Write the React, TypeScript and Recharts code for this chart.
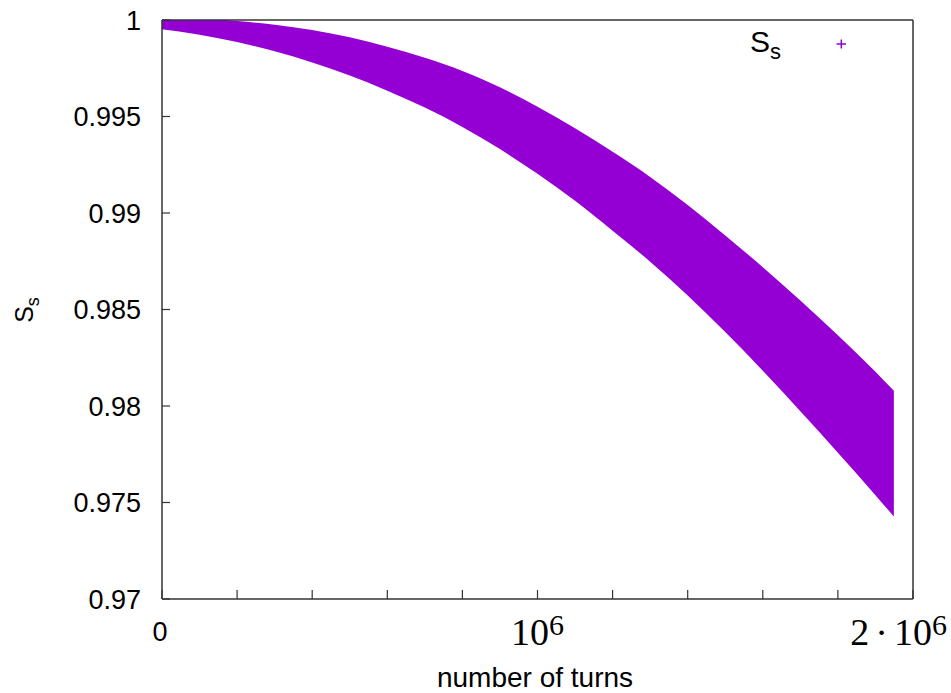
import React from 'react';
import { AreaChart, Area, XAxis, YAxis } from 'recharts';

// band of S_s vs number of turns
const turns = [
  0, 100000, 200000, 300000, 400000, 500000, 600000, 700000, 800000, 900000,
  1000000, 1100000, 1200000, 1300000, 1400000, 1500000, 1600000, 1700000,
  1800000, 1900000, 1949000,
];
const upperS = [
  1.0002, 1.0001, 0.99995, 0.99975, 0.99948, 0.9991, 0.99862, 0.99804, 0.99736,
  0.99651, 0.99551, 0.99439, 0.99317, 0.99187, 0.99042, 0.98884, 0.98719,
  0.98547, 0.98367, 0.98177, 0.98079,
];
const lowerS = [
  0.99952, 0.99924, 0.99886, 0.99838, 0.9978, 0.99712, 0.99634, 0.99546, 0.99446,
  0.99331, 0.99203, 0.99063, 0.98908, 0.98748, 0.98573, 0.98383, 0.98183,
  0.97973, 0.97758, 0.97538, 0.97428,
];

const xTicks = [
  0, 200000, 400000, 600000, 800000, 1000000, 1200000, 1400000, 1600000,
  1800000, 2000000,
];
const yTicks = [0.97, 0.975, 0.98, 0.985, 0.99, 0.995, 1];

const data = turns.map((t, i) => ({ turns: t, band: [lowerS[i], upperS[i]] }));

const W = 951;
const H = 693;
const PLOT_BOTTOM = 599;
const SANS = '"Liberation Sans", Arial, Helvetica, sans-serif';
const SERIF = '"Liberation Serif", "DejaVu Serif", serif';
const PURPLE = '#9400d3';
const AXIS = '#333';

const XTick = (props: any) => {
  const { x, payload } = props;
  const v = payload.value;
  if (v === 0) {
    return (
      <text x={x - 2} y={PLOT_BOTTOM + 42} fontFamily={SANS} fontSize={27} textAnchor="middle" fill="#000">
        0
      </text>
    );
  }
  if (v === 1000000) {
    return (
      <text x={x} y={PLOT_BOTTOM + 46} fontFamily={SERIF} fontSize={38} textAnchor="middle" fill="#000">
        10<tspan dy={-10} fontSize={30}>6</tspan>
      </text>
    );
  }
  if (v === 2000000) {
    return (
      <text x={x + 34} y={PLOT_BOTTOM + 46} fontFamily={SERIF} fontSize={38} textAnchor="end" fill="#000">
        2<tspan dx={6}>·</tspan>
        <tspan dx={6}>10</tspan>
        <tspan dy={-10} fontSize={30}>6</tspan>
      </text>
    );
  }
  return <g />;
};

const YTitle = () => (
  <text
    transform="translate(33, 310) rotate(-90)"
    fontFamily={SANS}
    fontSize={25}
    textAnchor="middle"
    fill="#000"
  >
    S<tspan dy={6} fontSize={18}>s</tspan>
  </text>
);

const XTitle = () => (
  <text x={535} y={687} fontFamily={SANS} fontSize={28} textAnchor="middle" fill="#000">
    number of turns
  </text>
);

const App = () => {
  return (
    <div style={{ position: 'absolute', left: 0, top: 0, width: W, height: H, background: '#fff' }}>
      <AreaChart width={W} height={H} data={data} margin={{ top: 0, right: 0, bottom: 0, left: 0 }}>
        <XAxis
          dataKey="turns"
          type="number"
          domain={[0, 2000000]}
          ticks={xTicks}
          interval={0}
          height={94}
          tickSize={-9}
          tickMargin={2}
          axisLine={{ stroke: AXIS, strokeWidth: 1.5 }}
          tickLine={{ stroke: AXIS, strokeWidth: 1.2 }}
          tick={<XTick />}
          label={{ content: () => <XTitle /> }}
        />
        <XAxis
          xAxisId="top"
          orientation="top"
          type="number"
          domain={[0, 2000000]}
          ticks={xTicks}
          interval={0}
          height={20}
          tickSize={-8}
          axisLine={{ stroke: AXIS, strokeWidth: 1.5 }}
          tickLine={{ stroke: AXIS, strokeWidth: 1.2 }}
          tick={false}
        />
        <YAxis
          type="number"
          domain={[0.97, 1]}
          allowDataOverflow
          ticks={yTicks}
          interval={0}
          width={162}
          tickSize={-8}
          tickMargin={29}
          axisLine={{ stroke: AXIS, strokeWidth: 1.5 }}
          tickLine={{ stroke: AXIS, strokeWidth: 1.2 }}
          tick={{ fontSize: 27, fill: '#000', fontFamily: SANS }}
          tickFormatter={(v: number) => String(+v.toFixed(3))}
          label={{ content: () => <YTitle /> }}
        />
        <YAxis
          yAxisId="right"
          orientation="right"
          type="number"
          domain={[0.97, 1]}
          ticks={yTicks}
          interval={0}
          width={38}
          tickSize={-8}
          axisLine={{ stroke: AXIS, strokeWidth: 1.5 }}
          tickLine={{ stroke: AXIS, strokeWidth: 1.2 }}
          tick={false}
        />
        <Area
          dataKey="band"
          type="monotone"
          stroke="none"
          fill={PURPLE}
          fillOpacity={1}
          dot={false}
          activeDot={false}
          isAnimationActive={false}
        />
      </AreaChart>
      <svg
        width={W}
        height={H}
        style={{ position: 'absolute', left: 0, top: 0, pointerEvents: 'none' }}
      >
        <text x={750} y={52} fontFamily={SANS} fontSize={30} fill="#000">
          S<tspan dy={7} fontSize={22}>s</tspan>
        </text>
        <line x1={836.5} y1={44} x2={846} y2={44} stroke={PURPLE} strokeWidth={1.5} />
        <line x1={841.3} y1={39.5} x2={841.3} y2={48.5} stroke={PURPLE} strokeWidth={1.5} />
      </svg>
    </div>
  );
};

export default App;
